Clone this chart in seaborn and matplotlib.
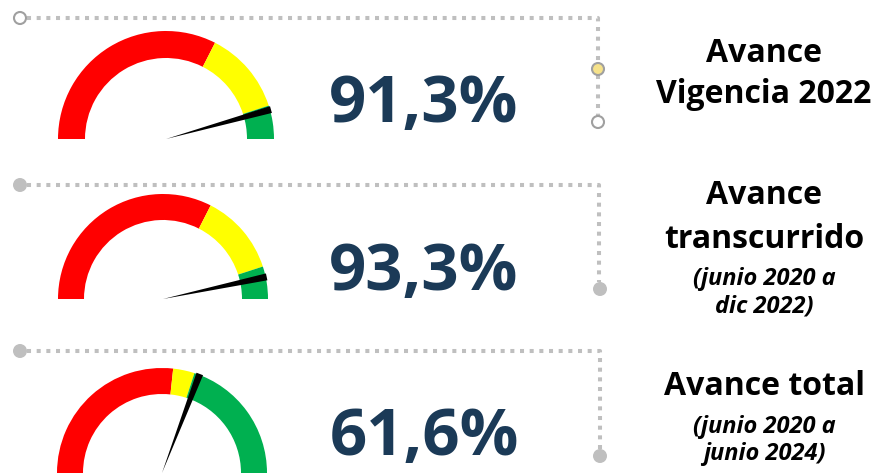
import numpy as np
import matplotlib
matplotlib.use("Agg")
import matplotlib.pyplot as plt
from matplotlib.patches import Wedge, Polygon, Circle
import seaborn as sns

# Datos de los tres indicadores
valores = [91.3, 93.3, 61.6]
textos_valor = ["91,3%", "93,3%", "61,6%"]
fin_rojo = [65, 65, 53.4]
fin_amarillo = [90, 90, 60]
titulos = [["Avance", "Vigencia 2022"],
           ["Avance", "transcurrido"],
           ["Avance total"]]
subtitulos = [[],
              ["(junio 2020 a", "dic 2022)"],
              ["(junio 2020 a", "junio 2024)"]]

sns.set_style("white")
plt.rcParams["font.family"] = ["Open Sans", "DejaVu Sans"]

fig = plt.figure(figsize=(8.73, 4.77), dpi=100)
ax = fig.add_axes([0, 0, 1, 1])
ax.set_xlim(0, 873)
ax.set_ylim(477, 0)
ax.set_aspect("equal")
ax.axis("off")

# posiciones (pixeles) de cada medidor
centros = [(166, 140), (163, 300), (162, 474)]
radios = [108, 105, 105]
grosor = [27, 26, 26]
base_numero = [122, 290, 455]
base_titulos = [[62, 103], [204, 248], [395]]
base_sub = [[], [285, 313], [433, 460]]

ROJO, AMARILLO, VERDE = "#FF0000", "#FFFF00", "#00B050"
AZUL = "#1B3A57"
GRIS = "#BFBFBF"


def angulo(v):
    # 0 -> izquierda, 100 -> derecha (eje y invertido)
    return 180 + 1.8 * v


for i in range(3):
    cx, cy = centros[i]
    R = radios[i]
    tramos = [(0, fin_rojo[i], ROJO),
              (fin_rojo[i], fin_amarillo[i], AMARILLO),
              (fin_amarillo[i], 100, VERDE)]
    for a, b, col in tramos:
        ax.add_patch(Wedge((cx, cy), R, angulo(a), angulo(b),
                           width=grosor[i], facecolor=col, edgecolor="none"))

    # aguja
    th = np.deg2rad(angulo(valores[i]))
    u = np.array([np.cos(th), np.sin(th)])
    n = np.array([-np.sin(th), np.cos(th)])
    punta = np.array([cx, cy]) + u * (R + 1)
    ax.add_patch(Polygon([(cx, cy), punta + n * 3.5, punta - n * 3.5],
                         closed=True, facecolor="black", edgecolor="none"))

    # valor grande
    ax.text(424, base_numero[i], textos_valor[i], ha="center", va="baseline",
            fontsize=47, fontweight="bold", color=AZUL)

    # titulos a la derecha
    for t, y in zip(titulos[i], base_titulos[i]):
        ax.text(764, y, t, ha="center", va="baseline", fontsize=23,
                fontweight="bold", color="black")
    for t, y in zip(subtitulos[i], base_sub[i]):
        ax.text(764, y, t, ha="center", va="baseline", fontsize=17,
                fontweight="bold", fontstyle="italic", color="black")

# lineas punteadas de los marcos
estilo = dict(color=GRIS, lw=2.9, linestyle=(0, (1, 1.4)),
              dash_capstyle="butt", zorder=1)
ax.plot([27, 598, 598], [19, 19, 64], **estilo)
ax.plot([598, 598], [76, 117], **estilo)
ax.plot([27, 599, 599], [186, 186, 283], **estilo)
ax.plot([27, 600, 600], [352, 352, 450], **estilo)

# circulos de los extremos
ax.add_patch(Circle((20, 19), 6, facecolor="white", edgecolor="#A0A0A0", lw=1.5))
ax.add_patch(Circle((598, 70), 6, facecolor="#F6E28A", edgecolor="#A0A0A0", lw=1.5))
ax.add_patch(Circle((598, 123), 6, facecolor="white", edgecolor="#A0A0A0", lw=1.5))
for x, y in [(20, 186), (600, 290), (20, 352), (600, 457)]:
    ax.add_patch(Circle((x, y), 7, facecolor=GRIS, edgecolor="none"))

fig.savefig("out.png", dpi=100)
